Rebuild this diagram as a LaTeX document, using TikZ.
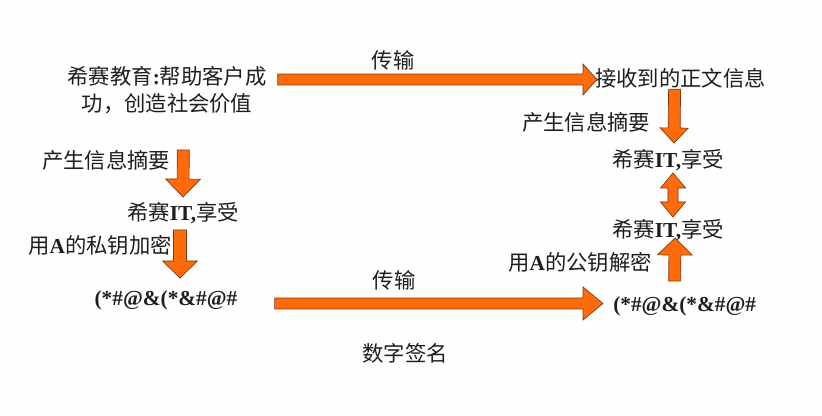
\documentclass[tikz,border=0pt]{standalone}
\usepackage{fontspec}
\setmainfont{Noto Sans CJK SC}
\newfontfamily\tnr{Liberation Serif}
\usetikzlibrary{calc,positioning}
\definecolor{Paper}{HTML}{FEFEFE}
\definecolor{Ink}{HTML}{1E1E1E}
\definecolor{Flame}{HTML}{FF6A0A}
\definecolor{FlameEdge}{HTML}{7A3A12}
\newcommand{\en}[1]{{\tnr\bfseries #1}}
% block arrow: start, tip, shaft half width, head half width, head length
\newcommand{\blockarrow}[5]{%
  \coordinate (hb) at ($(#2)!#5!(#1)$);
  \path[fatarrow] ($(#1)!#3!90:(#2)$) -- ($(hb)!#3!90:(#2)$) -- ($(hb)!#4!90:(#2)$) -- (#2)
    -- ($(hb)!#4!-90:(#2)$) -- ($(hb)!#3!-90:(#2)$) -- ($(#1)!#3!-90:(#2)$) -- cycle;
}
% same with a head at both ends
\newcommand{\dblarrow}[5]{%
  \coordinate (ha) at ($(#1)!#5!(#2)$);
  \coordinate (hb) at ($(#2)!#5!(#1)$);
  \path[fatarrow] (#1) -- ($(ha)!#4!90:(#2)$) -- ($(ha)!#3!90:(#2)$) -- ($(hb)!#3!90:(#2)$)
    -- ($(hb)!#4!90:(#2)$) -- (#2) -- ($(hb)!#4!-90:(#2)$) -- ($(hb)!#3!-90:(#2)$)
    -- ($(ha)!#3!-90:(#2)$) -- ($(ha)!#4!-90:(#2)$) -- cycle;
}
\tikzset{
  msgtext/.style={inner sep=0pt,text=Ink,font=\fontsize{16}{20}\selectfont,align=center},
  fatarrow/.style={fill=Flame,draw=FlameEdge,line width=0.5pt,line join=miter}
}

\begin{document}
\begin{tikzpicture}[x=0.75pt,y=-0.75pt]
  \fill[Paper] (0,0) rectangle (822,416);
  \useasboundingbox (0,0) rectangle (822,416);

  % sender side
  \node[msgtext] (src) at (167,90) {希赛教育\en{:}帮助客户成\\功，创造社会价值};
  \node[msgtext] (ldig) at (106,160) {产生信息摘要};
  \node[msgtext] (lsum) at (183,213) {希赛\en{IT,}享受};
  \node[msgtext] (lenc) at (100,245) {用\en{A}的私钥加密};
  \node[msgtext] (lcip) at (166,300) {\en{(*\#@\&(*\&\#@\#}};

  % receiver side
  \node[msgtext,anchor=west] (recv) at (595,78) {接收到的正文信息};
  \node[msgtext] (rdig) at (586,122) {产生信息摘要};
  \node[msgtext] (rsum1) at (668,160) {希赛\en{IT,}享受};
  \node[msgtext] (rsum2) at (668,230) {希赛\en{IT,}享受};
  \node[msgtext] (rdec) at (580,262) {用\en{A}的公钥解密};
  \node[msgtext,anchor=west] (rcip) at (613,306) {\en{(*\#@\&(*\&\#@\#}};

  % middle
  \node[msgtext] (tx1) at (393,60) {传输};
  \node[msgtext] (tx2) at (394,280) {传输};
  \node[msgtext] (sig) at (405,353) {数字签名};

  % arrows
  \coordinate (t0) at ($(src.east |- recv.west)+(11,1.5)$);
  \coordinate (t1) at ($(recv.west)+(2,1.5)$);
  \blockarrow{t0}{t1}{4.1pt}{11.6pt}{10.5pt}
  \coordinate (b0) at ($(lcip.east)+(37,3.5)$);
  \coordinate (b1) at ($(rcip.west)+(-10,-2.5)$);
  \blockarrow{b0}{b1}{4.1pt}{12.4pt}{15pt}
  \coordinate (l0) at ($(ldig.east)+(13,-10)$);
  \coordinate (l1) at ($(lsum.north)+(0,-5)$);
  \blockarrow{l0}{l1}{4.5pt}{13.1pt}{13.5pt}
  \coordinate (l2) at ($(lsum.south)+(-3,6)$);
  \coordinate (l3) at ($(lcip.north)+(14,-12)$);
  \blockarrow{l2}{l3}{4.9pt}{13.1pt}{12.8pt}
  \coordinate (r0) at ($(recv.south)+(-6,1)$);
  \coordinate (r1) at ($(rsum1.north)+(6,-6)$);
  \blockarrow{r0}{r1}{4.5pt}{10.5pt}{11.3pt}
  \coordinate (r2) at ($(rsum1.south)+(5,2)$);
  \coordinate (r3) at ($(rsum2.north)+(5,-2)$);
  \dblarrow{r2}{r3}{3.8pt}{9.4pt}{11.3pt}
  \coordinate (r4) at ($(rcip.north)+(-10,-15)$);
  \coordinate (r5) at ($(rsum2.south)+(7,-3)$);
  \blockarrow{r4}{r5}{4.5pt}{13.1pt}{12.8pt}
\end{tikzpicture}
\end{document}
